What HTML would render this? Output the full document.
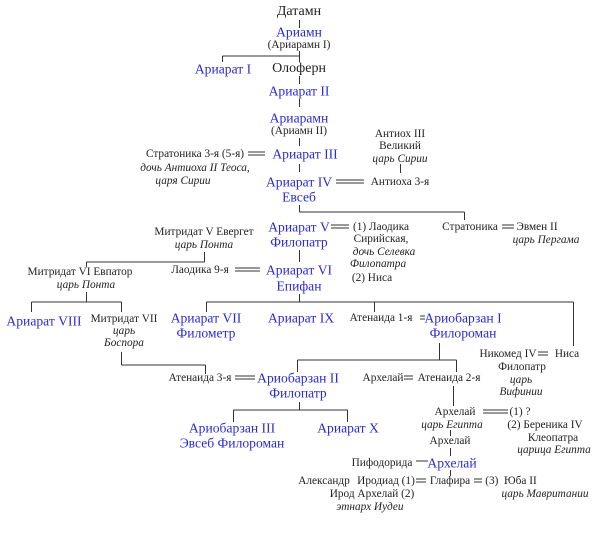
<!DOCTYPE html>
<html><head><meta charset="utf-8"><style>
html,body{margin:0;padding:0;background:#fff;}
#c{position:relative;width:600px;height:545px;overflow:hidden;font-family:"Liberation Serif","DejaVu Serif",serif;color:#222;}
.t{position:absolute;transform:translate(-50%,-50%);white-space:nowrap;font-size:11.3px;line-height:12px;}
.b{color:#2a2ad8;font-size:13.6px;line-height:15px;}
.k{font-size:14px;}
.i{font-style:italic;}
svg{position:absolute;left:0;top:0;}
</style></head><body><div id="c">
<svg width="600" height="545" stroke="#333" stroke-width="1" fill="none">
<path d="M299.5 20V28M299.5 51V62M222.5 56H299.5M222.5 56V62M299.5 76V84M299.5 99V107M299.5 138V146M299.5 164V172M400.5 164V173M299.5 205V212M299.5 212H464.5M464.5 212V220M299.5 250V262M204.5 252V262M86.5 262H204.5M86.5 262V267M86.5 292V302M31.5 302H121.5M31.5 302V312M121.5 302V312M121.5 352V365M121.5 365H205.5M205.5 365V374M299.5 294V302M206.5 302H573.5M206.5 302V312M374.5 302V312M573.5 302V346M439.5 343V360M297.5 360H456.5M297.5 360V372M456.5 360V372M299.5 402V410M233.5 410H347.5M233.5 410V422M347.5 410V422M453.5 386V406M450.5 430V436M450.5 448V456M450.5 470V476"/>
<path d="M248 152H265M248 155H265M336 180H364M336 183H364M331 225H349M331 228H349M502 225H514M502 228H514M235 268H260M235 271H260M420 316H425M420 319H425M538 352H548M538 355H548M235 376H255M235 379H255M404 376H413M404 379H413M483 410H508M483 413H508M416 461H428M416 479H426M416 482H426M474 479H482M474 482H482"/>
</svg>
<div class="t k" style="left:299px;top:12px">Датамн</div>
<div class="t b" style="left:299px;top:32px">Ариамн</div>
<div class="t" style="left:299px;top:45px">(Ариарамн I)</div>
<div class="t b" style="left:223px;top:69px">Ариарат I</div>
<div class="t k" style="left:299px;top:69px">Олоферн</div>
<div class="t b" style="left:299px;top:91px">Ариарат II</div>
<div class="t b" style="left:299px;top:118px">Ариарамн</div>
<div class="t" style="left:299px;top:131px">(Ариамн II)</div>
<div class="t b" style="left:305px;top:154px">Ариарат III</div>
<div class="t" style="left:195px;top:154px">Стратоника 3-я (5-я)</div>
<div class="t i" style="left:195px;top:168px">дочь Антиоха II Теоса,</div>
<div class="t i" style="left:183px;top:181px">царя Сирии</div>
<div class="t" style="left:400px;top:134px">Антиох III</div>
<div class="t" style="left:400px;top:146px">Великий</div>
<div class="t i" style="left:400px;top:159px">царь Сирии</div>
<div class="t" style="left:400px;top:182px">Антиоха 3-я</div>
<div class="t b" style="left:299px;top:182px">Ариарат IV</div>
<div class="t b" style="left:299px;top:197px">Евсеб</div>
<div class="t b" style="left:299px;top:227px">Ариарат V</div>
<div class="t b" style="left:299px;top:242px">Филопатр</div>
<div class="t" style="left:381px;top:227px">(1) Лаодика</div>
<div class="t" style="left:381px;top:239px">Сирийская,</div>
<div class="t i" style="left:384px;top:252px">дочь Селевка</div>
<div class="t i" style="left:378px;top:264px">Филопатра</div>
<div class="t" style="left:372px;top:278px">(2) Ниса</div>
<div class="t" style="left:470px;top:227px">Стратоника</div>
<div class="t" style="left:537px;top:227px">Эвмен II</div>
<div class="t i" style="left:546px;top:240px">царь Пергама</div>
<div class="t" style="left:204px;top:232px">Митридат V Евергет</div>
<div class="t i" style="left:204px;top:245px">царь Понта</div>
<div class="t" style="left:200px;top:270px">Лаодика 9-я</div>
<div class="t b" style="left:299px;top:270px">Ариарат VI</div>
<div class="t b" style="left:299px;top:286px">Епифан</div>
<div class="t" style="left:80px;top:272px">Митридат VI Евпатор</div>
<div class="t i" style="left:86px;top:285px">царь Понта</div>
<div class="t b" style="left:44px;top:321px">Ариарат VIII</div>
<div class="t" style="left:124px;top:319px">Митридат VII</div>
<div class="t i" style="left:124px;top:331px">царь</div>
<div class="t i" style="left:124px;top:343px">Боспора</div>
<div class="t b" style="left:206px;top:318px">Ариарат VII</div>
<div class="t b" style="left:206px;top:333px">Филометр</div>
<div class="t b" style="left:301px;top:318px">Ариарат IX</div>
<div class="t" style="left:381px;top:318px">Атенаида 1-я</div>
<div class="t b" style="left:463px;top:318px">Ариобарзан I</div>
<div class="t b" style="left:463px;top:333px">Филороман</div>
<div class="t" style="left:508px;top:354px">Никомед IV</div>
<div class="t" style="left:567px;top:354px">Ниса</div>
<div class="t" style="left:522px;top:367px">Филопатр</div>
<div class="t i" style="left:521px;top:380px">царь</div>
<div class="t i" style="left:521px;top:392px">Вифинии</div>
<div class="t" style="left:200px;top:378px">Атенаида 3-я</div>
<div class="t b" style="left:298px;top:378px">Ариобарзан II</div>
<div class="t b" style="left:298px;top:393px">Филопатр</div>
<div class="t" style="left:383px;top:378px">Архелай</div>
<div class="t" style="left:449px;top:378px">Атенаида 2-я</div>
<div class="t b" style="left:232px;top:428px">Ариобарзан III</div>
<div class="t b" style="left:232px;top:443px">Эвсеб Филороман</div>
<div class="t b" style="left:348px;top:428px">Ариарат X</div>
<div class="t" style="left:455px;top:412px">Архелай</div>
<div class="t i" style="left:452px;top:425px">царь Египта</div>
<div class="t" style="left:520px;top:412px">(1) ?</div>
<div class="t" style="left:545px;top:425px">(2) Береника IV</div>
<div class="t" style="left:553px;top:438px">Клеопатра</div>
<div class="t i" style="left:554px;top:450px">царица Египта</div>
<div class="t" style="left:450px;top:441px">Архелай</div>
<div class="t" style="left:382px;top:463px">Пифодорида</div>
<div class="t b" style="left:452px;top:463px">Архелай</div>
<div class="t" style="left:324px;top:481px">Александр</div>
<div class="t" style="left:386px;top:481px">Иродиад (1)</div>
<div class="t" style="left:450px;top:481px">Глафира</div>
<div class="t" style="left:511px;top:481px">(3)&nbsp; Юба II</div>
<div class="t" style="left:372px;top:494px">Ирод Архелай (2)</div>
<div class="t i" style="left:370px;top:507px">этнарх Иудеи</div>
<div class="t i" style="left:545px;top:494px">царь Мавритании</div>
</div></body></html>
